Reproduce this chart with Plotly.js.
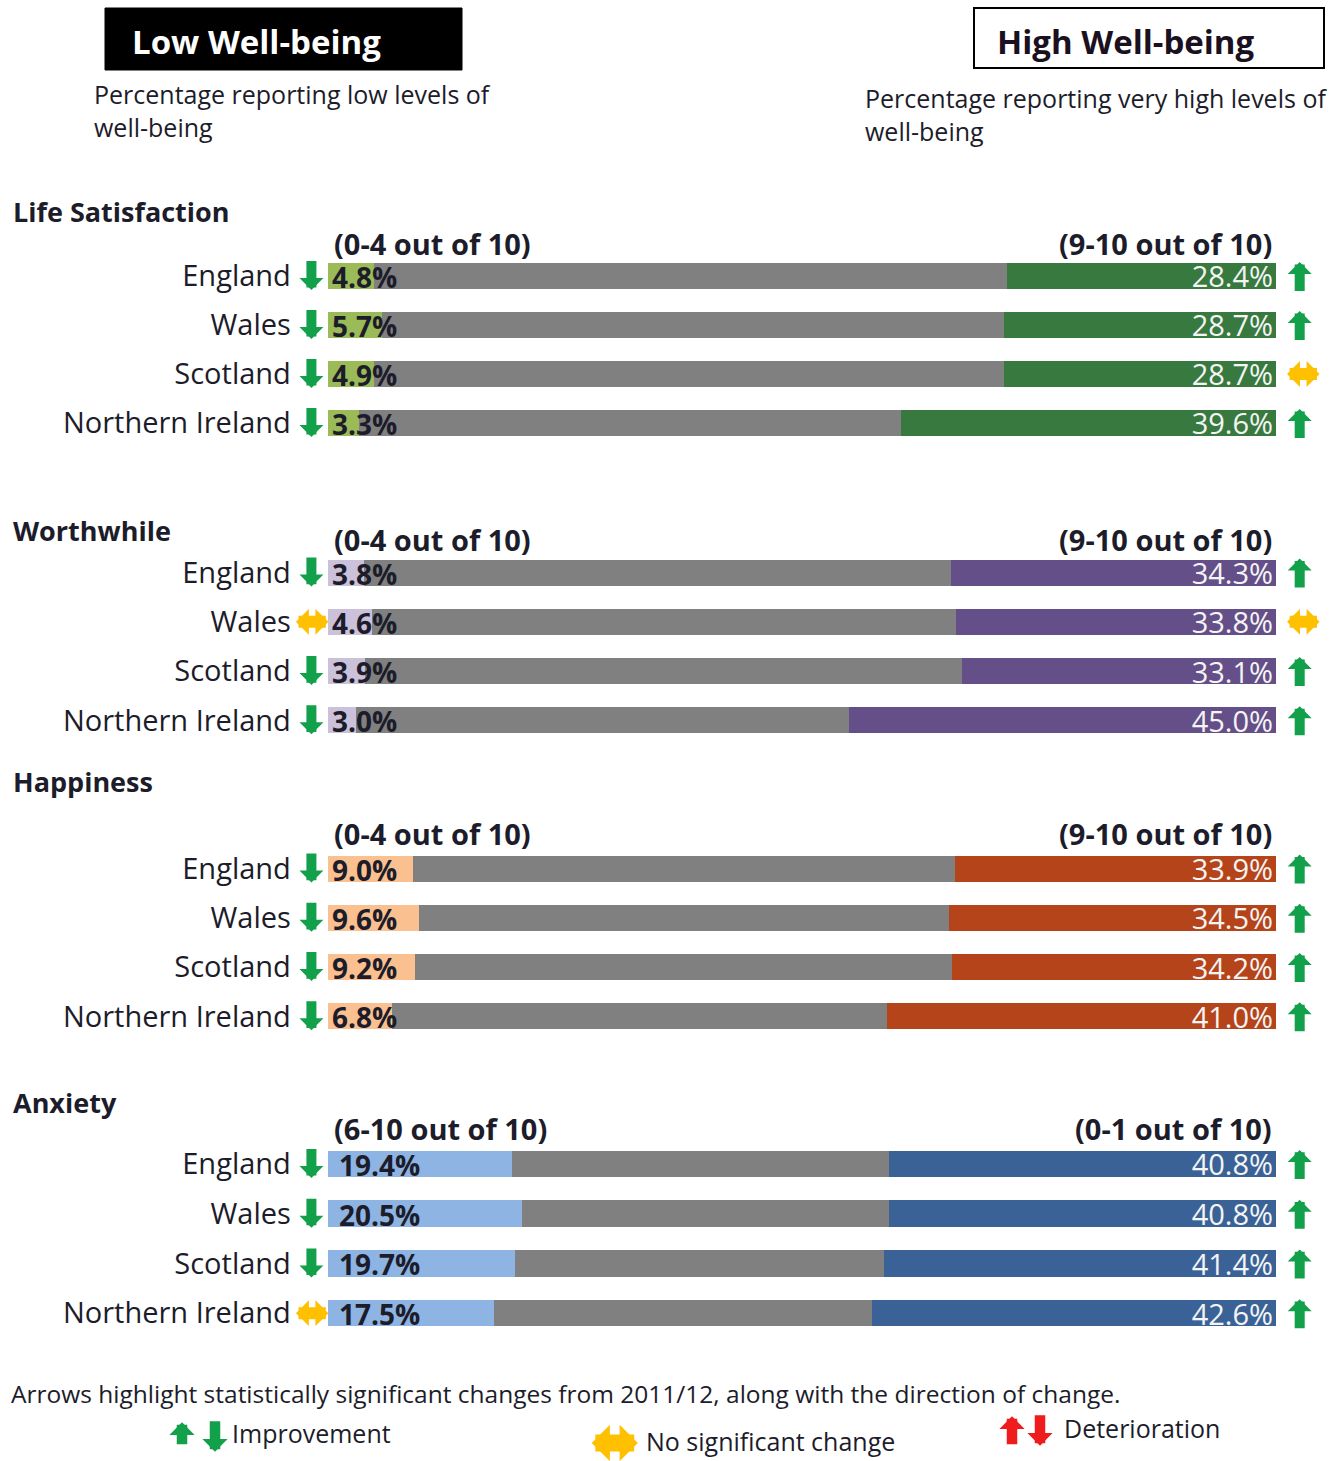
<!DOCTYPE html>
<html>
<head>
<meta charset="utf-8">
<script src="https://cdn.plot.ly/plotly-3.0.1.min.js"></script>
<style>html,body{margin:0;padding:0;background:#fff;}#chart{width:1331px;height:1461px;}</style>
</head>
<body>
<div id="chart"></div>
<script>
// ---- data ----
const countries = ['England', 'Wales', 'Scotland', 'Northern Ireland'];

const panelTitles = ['Life Satisfaction', 'Worthwhile', 'Happiness', 'Anxiety'];
const lowBands = ['(0-4 out of 10)', '(0-4 out of 10)', '(0-4 out of 10)', '(6-10 out of 10)'];
const highBands = ['(9-10 out of 10)', '(9-10 out of 10)', '(9-10 out of 10)', '(0-1 out of 10)'];

const lifeLow = [4.8, 5.7, 4.9, 3.3];
const lifeHigh = [28.4, 28.7, 28.7, 39.6];
const worthLow = [3.8, 4.6, 3.9, 3.0];
const worthHigh = [34.3, 33.8, 33.1, 45.0];
const happyLow = [9.0, 9.6, 9.2, 6.8];
const happyHigh = [33.9, 34.5, 34.2, 41.0];
const anxLow = [19.4, 20.5, 19.7, 17.5];
const anxHigh = [40.8, 40.8, 41.4, 42.6];

// change since 2011/12: 'down' / 'up' = significant (improvement), 'none' = no significant change
const lifeLowChange = ['down', 'down', 'down', 'down'];
const lifeHighChange = ['up', 'up', 'none', 'up'];
const worthLowChange = ['down', 'none', 'down', 'down'];
const worthHighChange = ['up', 'none', 'up', 'up'];
const happyLowChange = ['down', 'down', 'down', 'down'];
const happyHighChange = ['up', 'up', 'up', 'up'];
const anxLowChange = ['down', 'down', 'down', 'none'];
const anxHighChange = ['up', 'up', 'up', 'up'];

const headerLow = 'Low Well-being';
const headerHigh = 'High Well-being';
const subLow = 'Percentage reporting low levels of<br>well-being';
const subHigh = 'Percentage reporting very high levels of<br>well-being';
const footnote = 'Arrows highlight statistically significant changes from 2011/12, along with the direction of change.';
const legendLabels = ['Improvement', 'No significant change', 'Deterioration'];

// ---- styling ----
const W = 1331, H = 1461;
const FONT = 'Open Sans, Noto Sans, sans-serif';
const TXT = '#1c1c2a';
const GRAY = '#808080';
const GREEN_ARROW = '#12a04a';
const YELLOW = '#ffc000';
const RED = '#ee1c1c';
const lowColors = ['#9bbb59', '#ccc1da', '#fac090', '#8db4e2'];
const highColors = ['#38793f', '#644f88', '#b5441a', '#3a6297'];
// x axis: 0..100 % spans pixels 328..1276; axis extended a bit so the arrows fit in range
const X0PX = 328, PXU = (1276 - 328) / 100;
const XMIN = -3.6, XMAX = 104.6;
const xDomain = [(X0PX + XMIN * PXU) / W, (X0PX + XMAX * PXU) / W];
const LEFT_ARROW_X = -1.75, RIGHT_ARROW_X = 102.5;
const py = p => 1 - p / H;
const panelPx = [[251.5, 447.5], [548, 745], [844, 1041], [1139, 1338]];
const titlePx = [211, 530, 781, 1102];
const bandPx = [244, 540, 833, 1128];

const panels = [
  {low: lifeLow, high: lifeHigh, lc: lifeLowChange, hc: lifeHighChange},
  {low: worthLow, high: worthHigh, lc: worthLowChange, hc: worthHighChange},
  {low: happyLow, high: happyHigh, lc: happyLowChange, hc: happyHighChange},
  {low: anxLow, high: anxHigh, lc: anxLowChange, hc: anxHighChange}
];

const pct = v => v.toFixed(1) + '%';

const traces = [];
const layout = {
  width: W, height: H,
  margin: {l: 0, r: 0, t: 0, b: 0},
  paper_bgcolor: '#fff', plot_bgcolor: 'rgba(0,0,0,0)',
  barmode: 'stack', bargap: 0.47,
  showlegend: false,
  font: {family: FONT, color: TXT},
  annotations: [], shapes: []
};

// block-arrow marker built from an annotation arrow (stem + head)
function changeArrow(kind, color, pos, scale) {
  const s = scale || 1;
  const base = Object.assign({showarrow: true, text: ' ', font: {size: 1}, axref: 'pixel', ayref: 'pixel',
    arrowcolor: color, arrowhead: 1, startarrowhead: 1, standoff: 0, startstandoff: 0}, pos);
  if (kind === 'none') {
    return Object.assign(base, {arrowside: 'end+start', arrowwidth: 12 * s, arrowsize: 0.36, startarrowsize: 0.36,
      xshift: 17 * s, yshift: 0, ax: -34 * s, ay: 0});
  }
  const dir = kind === 'up' ? 1 : -1;
  return Object.assign(base, {arrowside: 'end', arrowwidth: 10 * s, arrowsize: 0.4,
    xshift: 0, yshift: dir * 14 * s, ax: 0, ay: dir * 31 * s});
}

panels.forEach((p, i) => {
  const k = i === 0 ? '' : String(i + 1);
  const xa = 'x' + k, ya = 'y' + k;
  const mid = p.low.map((v, j) => +(100 - v - p.high[j]).toFixed(1));
  traces.push({type: 'bar', orientation: 'h', y: countries, x: p.low, xaxis: xa, yaxis: ya,
    marker: {color: lowColors[i]}, hoverinfo: 'skip'});
  traces.push({type: 'bar', orientation: 'h', y: countries, x: mid, xaxis: xa, yaxis: ya,
    marker: {color: GRAY}, hoverinfo: 'skip'});
  traces.push({type: 'bar', orientation: 'h', y: countries, x: p.high, xaxis: xa, yaxis: ya,
    marker: {color: highColors[i]}, hoverinfo: 'skip',
    text: p.high.map(pct), textposition: 'inside', insidetextanchor: 'end',
    constraintext: 'none',
    textfont: {family: FONT, size: 29, color: '#f4f4f4'}});

  p.low.forEach((v, j) => {
    // low value label at the start of the bar
    layout.annotations.push({xref: xa, yref: ya, x: 0, y: countries[j], xanchor: 'left', yanchor: 'middle',
      xshift: i === 3 ? 9 : 2, yshift: -1, showarrow: false, text: '<b>' + pct(v) + '</b>',
      font: {family: FONT, size: 28, color: TXT}});
    // change markers on both sides
    const lc = p.lc[j], hc = p.hc[j];
    layout.annotations.push(changeArrow(lc, lc === 'none' ? YELLOW : GREEN_ARROW,
      {xref: xa, yref: ya, x: LEFT_ARROW_X, y: countries[j]}));
    layout.annotations.push(changeArrow(hc, hc === 'none' ? YELLOW : GREEN_ARROW,
      {xref: xa, yref: ya, x: hc === 'none' ? RIGHT_ARROW_X + 0.3 : RIGHT_ARROW_X, y: countries[j]}));
  });

  layout['xaxis' + k] = {domain: xDomain, range: [XMIN, XMAX], anchor: ya, visible: false, fixedrange: true};
  layout['yaxis' + k] = {
    domain: [py(panelPx[i][1]), py(panelPx[i][0])], anchor: xa,
    type: 'category', range: [3.5, -0.5], showgrid: false, zeroline: false, showline: false,
    ticks: '', ticklabelstandoff: 2, fixedrange: true,
    tickfont: {family: FONT, size: 29, color: TXT}
  };
  layout.annotations.push({xref: 'paper', yref: 'paper', x: 11 / W, y: py(titlePx[i]),
    xanchor: 'left', yanchor: 'middle', showarrow: false,
    text: '<b>' + panelTitles[i] + '</b>', font: {family: FONT, size: 27, color: TXT}});
  layout.annotations.push({xref: 'paper', yref: 'paper', x: 332 / W, y: py(bandPx[i]),
    xanchor: 'left', yanchor: 'middle', showarrow: false,
    text: '<b>' + lowBands[i] + '</b>', font: {family: FONT, size: 29, color: TXT}});
  layout.annotations.push({xref: 'paper', yref: 'paper', x: 1274 / W, y: py(bandPx[i]),
    xanchor: 'right', yanchor: 'middle', showarrow: false,
    text: '<b>' + highBands[i] + '</b>', font: {family: FONT, size: 29, color: TXT}});
});

// header boxes
layout.shapes.push({type: 'rect', xref: 'paper', yref: 'paper', x0: 105 / W, x1: 462 / W, y0: py(70), y1: py(8),
  fillcolor: '#000', line: {color: '#000', width: 1}});
layout.shapes.push({type: 'rect', xref: 'paper', yref: 'paper', x0: 974 / W, x1: 1324 / W, y0: py(68), y1: py(8),
  fillcolor: '#fff', line: {color: '#000', width: 2}});
layout.annotations.push({xref: 'paper', yref: 'paper', x: 130 / W, y: py(42), xanchor: 'left', yanchor: 'middle',
  showarrow: false, text: '<b>' + headerLow + '</b>', font: {family: FONT, size: 33, color: '#fff'}});
layout.annotations.push({xref: 'paper', yref: 'paper', x: 995 / W, y: py(42), xanchor: 'left', yanchor: 'middle',
  showarrow: false, text: '<b>' + headerHigh + '</b>', font: {family: FONT, size: 33, color: '#1a1020'}});
layout.annotations.push({xref: 'paper', yref: 'paper', x: 92 / W, y: py(111), xanchor: 'left', yanchor: 'middle',
  align: 'left', showarrow: false, text: subLow, font: {family: FONT, size: 25, color: TXT}});
layout.annotations.push({xref: 'paper', yref: 'paper', x: 863 / W, y: py(114), xanchor: 'left', yanchor: 'middle',
  align: 'left', showarrow: false, text: subHigh, font: {family: FONT, size: 25, color: TXT}});

// footer + key
layout.annotations.push({xref: 'paper', yref: 'paper', x: 9 / W, y: py(1393), xanchor: 'left', yanchor: 'middle',
  showarrow: false, text: footnote, font: {family: FONT, size: 24.5, color: TXT}});
const legendItems = [
  {marks: [['up', GREEN_ARROW, 182, 1437], ['down', GREEN_ARROW, 215, 1437]], label: legendLabels[0], lx: 230, y: 1433},
  {marks: [['none', YELLOW, 614, 1443]], label: legendLabels[1], lx: 644, y: 1441},
  {marks: [['up', RED, 1012, 1431], ['down', RED, 1040, 1431]], label: legendLabels[2], lx: 1062, y: 1428}
];
legendItems.forEach(it => {
  it.marks.forEach(m => {
    layout.annotations.push(changeArrow(m[0], m[1], {xref: 'paper', yref: 'paper', x: m[2] / W, y: py(m[3])},
      m[0] === 'none' ? 1.4 : 1.05));
  });
  layout.annotations.push({xref: 'paper', yref: 'paper', x: it.lx / W, y: py(it.y), xanchor: 'left', yanchor: 'middle',
    showarrow: false, text: it.label, font: {family: FONT, size: 25, color: TXT}});
});

Plotly.newPlot('chart', traces, layout, {staticPlot: true, displayModeBar: false});
</script>
</body>
</html>
